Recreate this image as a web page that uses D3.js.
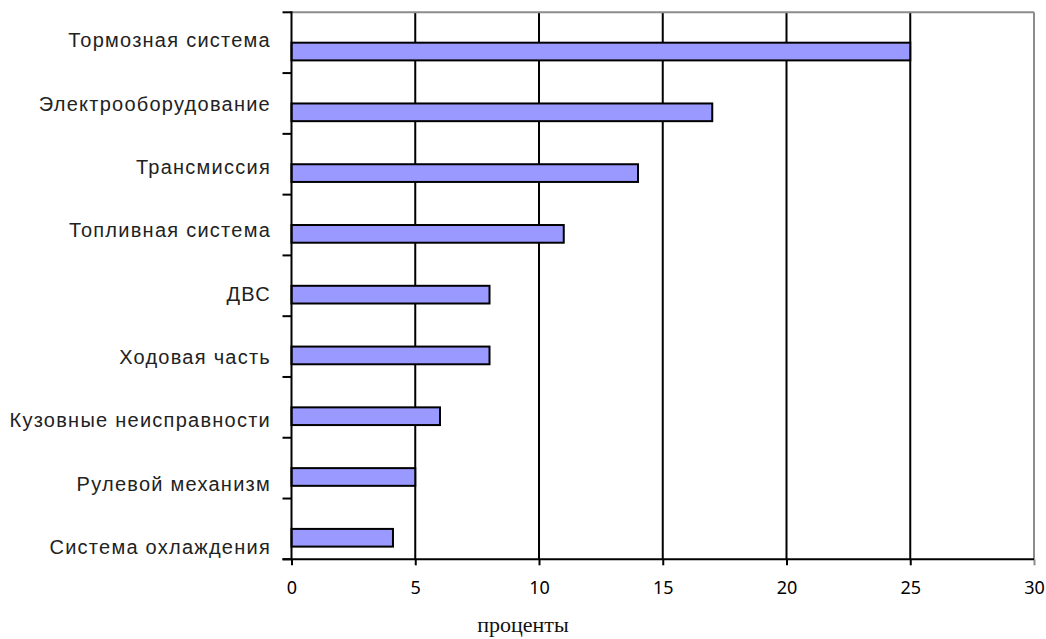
<!DOCTYPE html>
<html><head><meta charset="utf-8">
<script src="https://cdn.jsdelivr.net/npm/d3@7"></script>
<style>body{margin:0;background:#fff}svg{display:block}</style>
</head><body>
<svg id="c" width="1046" height="639"></svg>
<script>
const categories = ["Тормозная система","Электрооборудование","Трансмиссия","Топливная система","ДВС","Ходовая часть","Кузовные неисправности","Рулевой механизм","Система охлаждения"];
const values = [25,17,14,11,8,8,6,5,4.1];
const xTicks = [0,5,10,15,20,25,30];
const xTitle = "проценты";

const svg = d3.select("#c");
const L=291.5, R=1034, T=12.3, B=559.3;
const x = d3.scaleLinear().domain([0,30]).range([L,R]);
const y = d3.scaleBand().domain(categories).range([T,B]).padding(0);
const yLab = d3.scalePoint().domain(categories).range([47.3,554]);
const barH = 17.7;

// gridlines
svg.append("g").selectAll("line").data(xTicks.filter(d=>d>0&&d<30)).join("line")
  .attr("x1",d=>x(d)).attr("x2",d=>x(d)).attr("y1",T).attr("y2",B)
  .attr("stroke","#000").attr("stroke-width",2);
// top/right border
svg.append("line").attr("x1",L).attr("x2",R).attr("y1",T).attr("y2",T).attr("stroke","#8c8c8c").attr("stroke-width",2);
svg.append("line").attr("x1",R).attr("x2",R).attr("y1",T).attr("y2",B).attr("stroke","#8c8c8c").attr("stroke-width",2);

// bars
svg.append("g").selectAll("rect").data(values).join("rect")
  .attr("x",x(0)).attr("y",(d,i)=>y(categories[i])+y.bandwidth()/2)
  .attr("width",d=>x(d)-x(0)).attr("height",barH)
  .attr("fill","#9999ff").attr("stroke","#000").attr("stroke-width",2);

// x axis
const xa = svg.append("g").attr("transform",`translate(0,${B})`)
  .call(d3.axisBottom(x).tickValues(xTicks).tickSize(6).tickPadding(16).tickSizeOuter(0));
xa.select(".domain").remove();
xa.selectAll(".tick line").attr("stroke","#000").attr("stroke-width",2);
xa.select(".tick:last-of-type line").attr("stroke","#8c8c8c");
xa.selectAll(".tick text").attr("font-family","'Noto Sans', 'DejaVu Sans', sans-serif").attr("font-size",18).attr("fill","#000");
svg.append("line").attr("x1",L-9).attr("x2",R).attr("y1",B).attr("y2",B).attr("stroke","#000").attr("stroke-width",2);

// y axis: ticks at category boundaries
const bounds = categories.map(c=>y(c)).concat([B]);
svg.append("g").selectAll("line").data(bounds).join("line")
  .attr("x1",L-9).attr("x2",L).attr("y1",d=>d).attr("y2",d=>d).attr("stroke","#000").attr("stroke-width",2);
svg.append("line").attr("x1",L).attr("x2",L).attr("y1",T-1).attr("y2",B).attr("stroke","#000").attr("stroke-width",2);
svg.append("g").selectAll("text").data(categories).join("text")
  .attr("x",271).attr("y",d=>yLab(d))
  .attr("text-anchor","end")
  .attr("font-family","'Liberation Sans', Arial, sans-serif").attr("font-size",20)
  .attr("letter-spacing",1.25).attr("fill","#222").text(d=>d);

svg.append("text").attr("x",523).attr("y",632).attr("text-anchor","middle")
  .attr("font-family","'Liberation Serif', 'Times New Roman', serif").attr("font-size",22)
  .attr("fill","#111").text(xTitle);
</script>
</body></html>
